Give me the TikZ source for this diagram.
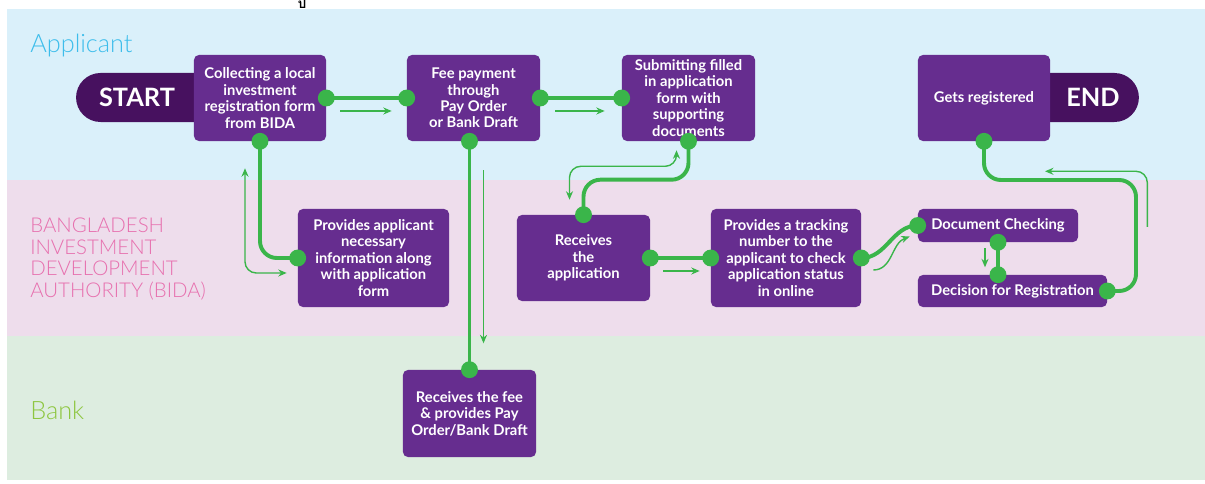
\documentclass[tikz,border=0pt]{standalone}
\usepackage{fontspec}
\setmainfont{Lato}
\newfontfamily\lanefont{Lato Light}
\newfontfamily\thaifont[Script=Thai]{Loma}
\usetikzlibrary{shapes.misc,arrows.meta}
\definecolor{bandblue}{HTML}{DAF0FA}
\definecolor{bandpink}{HTML}{EEDDEC}
\definecolor{bandgreen}{HTML}{DDEDE0}
\definecolor{boxpurple}{HTML}{662D8F}
\definecolor{pilldark}{HTML}{47115F}
\definecolor{linkgreen}{HTML}{3AB54A}
\definecolor{laneblue}{HTML}{3DBDEB}
\definecolor{lanepink}{HTML}{E76FAE}
\definecolor{lanegreen}{HTML}{8DC63F}
\tikzset{
  stage/.style={fill=boxpurple, text=white, rounded corners=3.5pt, align=center, inner sep=0pt,
    font=\bfseries\fontsize{10.5}{11.7}\selectfont},
  pill/.style={fill=pilldark, text=white, rounded rectangle, minimum height=1.225cm, inner sep=0pt,
    font=\bfseries\fontsize{18}{20}\selectfont},
  lane/.style={anchor=west, align=left, inner sep=0pt, font=\lanefont\fontsize{18}{21}\selectfont},
  link/.style={draw=linkgreen, line width=2.8pt},
  flow/.style={draw=linkgreen, line width=1pt},
  >={Stealth[length=6pt,width=5pt]}
}
\begin{document}
\begin{tikzpicture}[x=0.025cm,y=-0.025cm]
      \useasboundingbox (0,0) rectangle (1205,484);
      \fill[bandblue] (7,9) rectangle (1205,180);
      \fill[bandpink] (7,180) rectangle (1205,336);
      \fill[bandgreen] (7,336) rectangle (1205,480);
      \node[anchor=base, inner sep=0pt, font=\thaifont\bfseries\fontsize{9.5}{10}\selectfont] (mark) at (302,8.5) {ป};
      \node[lane, text=laneblue] (applicant) at (30,46) {Applicant};
      \node[lane, text=lanepink, font=\lanefont\fontsize{14.5}{15.4}\selectfont] (bida) at (30,259)
        {BANGLADESH\\INVESTMENT\\DEVELOPMENT\\AUTHORITY (BIDA)};
      \node[lane, text=lanegreen] (bank) at (30,410) {Bank};
      \node[pill, rounded rectangle right arc=none, minimum width=3cm] (start) at (137,97.5) {START};
      \node[pill, rounded rectangle left arc=none, minimum width=2.25cm] (end) at (1093,97.5) {END};
      \node[stage, minimum width=3.3cm, minimum height=2.15cm] (box1) at (260,98)
        {Collecting a local\\investment\\registration form\\from BIDA};
      \node[stage, minimum width=3.325cm, minimum height=2.15cm] (box2) at (473.5,98)
        {Fee payment\\through\\Pay Order\\or Bank Draft};
      \node[stage, minimum width=3.325cm, minimum height=2.15cm] (box3) at (688.5,98)
        {Submitting filled\\in application\\form with\\supporting\\documents};
      \node[stage, minimum width=3.3cm, minimum height=2.15cm] (box4) at (984,98) {Gets registered};
      \node[stage, minimum width=3.775cm, minimum height=2.45cm] (box5) at (373.5,258)
        {Provides applicant\\necessary\\information along\\with application\\form};
      \node[stage, minimum width=3.325cm, minimum height=2.15cm] (box6) at (583.5,258)
        {Receives\\the\\application};
      \node[stage, minimum width=3.75cm, minimum height=2.45cm] (box7) at (786,258)
        {Provides a tracking\\number to the\\applicant to check\\application status\\in online};
      \node[stage, minimum width=4cm, minimum height=0.825cm] (box8) at (998,225.5) {Document Checking};
      \node[stage, minimum width=4.725cm, minimum height=0.8cm] (box9) at (1012.5,291) {Decision for Registration};
      \node[stage, minimum width=3.325cm, minimum height=2.175cm] (box10) at (469.5,413.5)
        {Receives the fee\\\& provides Pay\\Order/Bank Draft};
      \coordinate (bend) at (1136,180);
      \begin{scope}[link, rounded corners=12pt]
        \draw (box1.east) -- (box2.west);
        \draw (box2.east) -- (box3.west);
        \draw (box1.south) |- (box5.west);
        \draw (box2.south -| box10.north) -- (box10.north);
        \draw (box3.south) |- ([shift={(0,-35)}]box6.north) -- (box6.north);
        \draw (box6.east) -- (box7.west);
        \draw (box7.east) to[out=0,in=180] (box8.west);
        \draw (box8.south) -- (box8.south |- box9.north);
        \draw (box9.east) -| (bend) -| (box4.south);
      \end{scope}
      \foreach \p in {box1.east, box1.south, box2.west, box2.east, box2.south -| box10.north,
          box3.west, box3.south, box4.south, box5.west, box6.north, box6.east, box7.west,
          box7.east, box8.west, box8.south, box8.south |- box9.north, box9.east, box10.north}
        \fill[linkgreen] (\p) circle (6pt);
      \begin{scope}[flow, rounded corners=8pt]
        \draw[->] ([shift={(14,13)}]box1.east) -- ([shift={(-15,13)}]box2.west);
        \draw[->] ([shift={(15,13)}]box2.east) -- ([shift={(-17,13)}]box3.west);
        \draw[<->] ([shift={(-15,27)}]box1.south) |- ([shift={(-11,15)}]box5.west);
        \draw[->] ([shift={(10,29)}]box2.south) -- ([shift={(10,202)}]box2.south);
        \draw[<->] ([shift={(-14,-15)}]box6.north) |- ([shift={(-12,25)}]box3.south)
          -- ([shift={(-12,9)}]box3.south);
        \draw[->] ([shift={(13,13)}]box6.east) -- ([shift={(-11,13)}]box7.west);
        \draw[->] ([shift={(12,12)}]box7.east) to[out=0,in=200] ([shift={(-8,11)}]box8.west);
        \draw[->] ([shift={(-13,6)}]box8.south) -- ([shift={(-13,25)}]box8.south);
        \draw[->] ([shift={(40,-64)}]box9.east) |- ([shift={(61,30)}]box4.south);
      \end{scope}
    \end{tikzpicture}
\end{document}
